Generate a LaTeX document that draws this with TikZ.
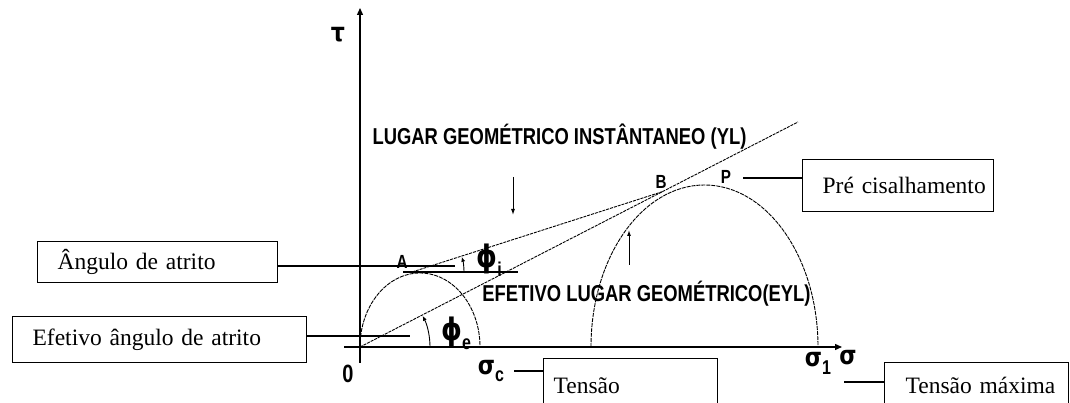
\documentclass[tikz,border=0pt]{standalone}
\usepackage{fontspec}
\usetikzlibrary{arrows.meta, positioning, calc}
\newfontfamily\boxfont{Liberation Serif}
\newfontfamily\lblfont[FakeStretch=0.8]{Liberation Sans}
\newfontfamily\grkfont[FakeStretch=0.85]{DejaVu Sans}
\newcommand{\lblsub}[1]{\raisebox{-0.3em}{\lblfont\bfseries\fontsize{20}{22}\selectfont #1}}
\tikzset{
  axis/.style    = {line width=1.3pt, -{Triangle[length=7pt,width=6pt]}},
  locus/.style   = {line width=0.9pt, dash pattern=on 3pt off 1pt},
  circ/.style    = {line width=0.9pt, dash pattern=on 4pt off 1pt},
  callout/.style = {line width=2pt},
  tag/.style     = {draw, line width=1.2pt, inner xsep=0pt, align=left,
                    anchor=north west,
                    font=\boxfont\fontsize{23.5}{28}\selectfont},
  lbl/.style     = {inner sep=0pt, font=\lblfont\bfseries\fontsize{23}{26}\selectfont},
  grk/.style     = {inner sep=0pt, font=\grkfont\bfseries\fontsize{26}{28}\selectfont},
  phi/.style     = {grk, font=\grkfont\bfseries\fontsize{31}{33}\selectfont},
  ptlbl/.style   = {inner sep=0pt, font=\lblfont\bfseries\fontsize{19}{21}\selectfont},
  hint/.style    = {line width=1pt, -{Latex[length=6pt,width=4pt]}},
  angarr/.style  = {line width=0.9pt, -{Latex[length=5pt,width=4pt]}},
}

\begin{document}
\begin{tikzpicture}[x=1pt, y=1pt]
  \useasboundingbox (0,0) rectangle (1070,403);

  % axes
  \coordinate (o) at (360,56);
  \coordinate (taubot) at (360,40);
  \coordinate (tautop) at (360,395);
  \coordinate (sigleft) at (344,56);
  \coordinate (sigend) at (842,56);
  \draw[axis] (taubot) -- (tautop);
  \draw[axis] (sigleft) -- (sigend);
  \node[grk] (tau) at (338,368) {τ};
  \node[lbl, font=\lblfont\bfseries\fontsize{25}{27}\selectfont] (zero) at (348,29) {0};
  \node[grk] (sigc) at (491,32) {σ\lblsub{c}};
  \node[grk] (sig1) at (818,40) {σ\lblsub{1}};
  \node[grk] (sig) at (848,45) {σ};

  % mohr circles
  \draw[circ] (360,56) arc[start angle=180, end angle=0, x radius=60, y radius=74];
  \draw[circ] (591,56) arc[start angle=180, end angle=0, x radius=113.5, y radius=162];

  % yield loci
  \coordinate (eyltop) at (798,281);
  \coordinate (bpt) at ($(o)!0.69!(eyltop)$);
  \coordinate (ylstart) at (412,131);
  \coordinate (aleft) at (403,131);
  \coordinate (aright) at (518,131);
  \draw[locus] (o) -- (eyltop);
  \draw[locus] (ylstart) -- (bpt);
  \draw[line width=1.2pt] (aleft) -- (aright);

  % angles
  \draw[angarr] (464,131) arc[start angle=0, end angle=17, radius=52];
  \draw[angarr] (430,56) arc[start angle=0, end angle=26.5, radius=70];
  \node[phi] (phii) at (489,143) {ϕ\lblsub{i}};
  \node[phi] (phie) at (456,70) {ϕ\lblsub{e}};

  \node[ptlbl] (ptA) at (402,141) {A};
  \node[ptlbl] (ptB) at (661,221) {B};
  \node[ptlbl] (ptP) at (726,226) {P};

  \node[lbl] (yl) at (559.5,266) {LUGAR GEOMÉTRICO INSTÂNTANEO (YL)};
  \node[lbl] (eyl) at (646.5,109) {EFETIVO LUGAR GEOMÉTRICO(EYL)};

  \coordinate (dnfrom) at (513,226);
  \coordinate (dnto) at (513,188);
  \coordinate (upfrom) at (629,138);
  \coordinate (upto) at (629,173);
  \draw[hint] (dnfrom) -- (dnto);
  \draw[hint] (upfrom) -- (upto);

  % label boxes
  \node[tag, text width=240pt, minimum height=41pt] (angbox) at (37,162)
    {\hspace*{20pt}Ângulo de atrito};
  \node[tag, text width=294pt, minimum height=46pt] (efebox) at (12,87)
    {\hspace*{20pt}Efetivo ângulo de atrito};
  \node[tag, text width=191pt, minimum height=52pt] (prebox) at (802,244)
    {\hspace*{20pt}Pré cisalhamento};
  \node[tag, text width=174pt, inner ysep=19pt] (tenbox) at (543,45)
    {\hspace*{10pt}Tensão};
  \node[tag, text width=184pt, inner ysep=15pt] (maxbox) at (884,41)
    {\hspace*{21pt}Tensão máxima};

  \coordinate (angtip) at (455,137);
  \coordinate (efetip) at (410,67);
  \coordinate (pretip) at (743,225);
  \coordinate (tentip) at (514,32);
  \coordinate (maxtip) at (844,21);
  \draw[callout] (angbox.east |- angtip) -- (angtip);
  \draw[callout] (efebox.east |- efetip) -- (efetip);
  \draw[callout] (pretip) -- (prebox.west |- pretip);
  \draw[callout] (tentip) -- (tenbox.west |- tentip);
  \draw[callout] (maxtip) -- (maxbox.west |- maxtip);
\end{tikzpicture}
\end{document}
